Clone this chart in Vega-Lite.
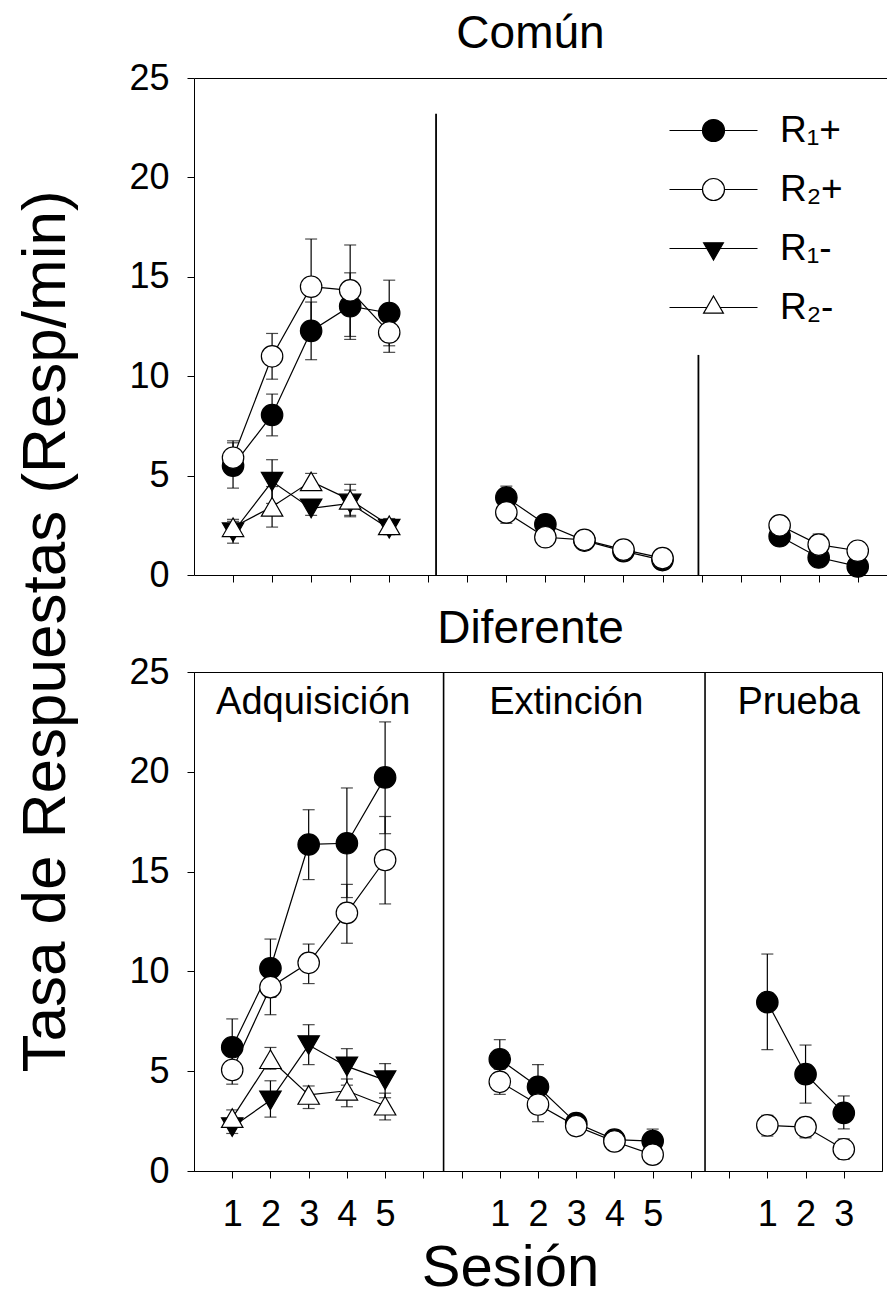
{
"$schema": "https://vega.github.io/schema/vega-lite/v6.json",
"background": "white",
"padding": {"left": 13, "top": 10, "right": 0, "bottom": 0},
"bounds": "flush",
"spacing": 97,
"config": {
  "font": "Liberation Sans",
  "view": {"stroke": null},
  "axis": {"grid": false, "domainColor": "black", "tickColor": "black", "labelColor": "black", "titleColor": "black", "labelFont": "Liberation Sans", "titleFont": "Liberation Sans", "labelFontSize": 36, "titleFontWeight": "normal", "tickSize": 7, "tickWidth": 1, "domainWidth": 1, "labelFlush": false, "labelOverlap": false},
  "legend": {"labelFont": "Liberation Sans", "labelColor": "black"}
},
"resolve": {"scale": {"fill": "independent", "shape": "independent"}, "legend": {"fill": "independent", "shape": "independent"}},
"datasets": {
  "series": [
    {"panel":"Común","serie":"R₁+","fase":"Adq","x":1,"m":5.5,"lo":4.37,"hi":6.65},
    {"panel":"Común","serie":"R₁+","fase":"Adq","x":2,"m":8.05,"lo":7.0,"hi":9.1},
    {"panel":"Común","serie":"R₁+","fase":"Adq","x":3,"m":12.28,"lo":10.83,"hi":13.73},
    {"panel":"Común","serie":"R₁+","fase":"Adq","x":4,"m":13.52,"lo":11.85,"hi":15.2},
    {"panel":"Común","serie":"R₁+","fase":"Adq","x":5,"m":13.18,"lo":11.53,"hi":14.83},
    {"panel":"Común","serie":"R₁+","fase":"Ext","x":8,"m":3.9,"lo":3.35,"hi":4.47},
    {"panel":"Común","serie":"R₁+","fase":"Ext","x":9,"m":2.55,"lo":2.25,"hi":2.85},
    {"panel":"Común","serie":"R₁+","fase":"Ext","x":10,"m":1.73,"lo":1.53,"hi":1.93},
    {"panel":"Común","serie":"R₁+","fase":"Ext","x":11,"m":1.2,"lo":1.05,"hi":1.35},
    {"panel":"Común","serie":"R₁+","fase":"Ext","x":12,"m":0.75,"lo":0.65,"hi":0.85},
    {"panel":"Común","serie":"R₁+","fase":"Pru","x":15,"m":1.95,"lo":1.65,"hi":2.25},
    {"panel":"Común","serie":"R₁+","fase":"Pru","x":16,"m":0.88,"lo":0.63,"hi":1.13},
    {"panel":"Común","serie":"R₁+","fase":"Pru","x":17,"m":0.43,"lo":0.23,"hi":0.63},
    {"panel":"Común","serie":"R₂+","fase":"Adq","x":1,"m":5.9,"lo":5.05,"hi":6.75},
    {"panel":"Común","serie":"R₂+","fase":"Adq","x":2,"m":11.0,"lo":9.85,"hi":12.15},
    {"panel":"Común","serie":"R₂+","fase":"Adq","x":3,"m":14.5,"lo":12.1,"hi":16.9},
    {"panel":"Común","serie":"R₂+","fase":"Adq","x":4,"m":14.32,"lo":12.0,"hi":16.6},
    {"panel":"Común","serie":"R₂+","fase":"Adq","x":5,"m":12.2,"lo":11.2,"hi":13.2},
    {"panel":"Común","serie":"R₂+","fase":"Ext","x":8,"m":3.15,"lo":2.6,"hi":3.7},
    {"panel":"Común","serie":"R₂+","fase":"Ext","x":9,"m":1.9,"lo":1.6,"hi":2.2},
    {"panel":"Común","serie":"R₂+","fase":"Ext","x":10,"m":1.77,"lo":1.57,"hi":1.97},
    {"panel":"Común","serie":"R₂+","fase":"Ext","x":11,"m":1.28,"lo":1.13,"hi":1.43},
    {"panel":"Común","serie":"R₂+","fase":"Ext","x":12,"m":0.85,"lo":0.75,"hi":0.95},
    {"panel":"Común","serie":"R₂+","fase":"Pru","x":15,"m":2.5,"lo":2.3,"hi":2.7},
    {"panel":"Común","serie":"R₂+","fase":"Pru","x":16,"m":1.53,"lo":1.0,"hi":2.06},
    {"panel":"Común","serie":"R₂+","fase":"Pru","x":17,"m":1.22,"lo":1.02,"hi":1.42},
    {"panel":"Común","serie":"R₁-","fase":"Adq","x":1,"m":2.15,"lo":1.6,"hi":2.7},
    {"panel":"Común","serie":"R₁-","fase":"Adq","x":2,"m":4.7,"lo":3.6,"hi":5.8},
    {"panel":"Común","serie":"R₁-","fase":"Adq","x":3,"m":3.35,"lo":3.0,"hi":3.7},
    {"panel":"Común","serie":"R₁-","fase":"Adq","x":4,"m":3.6,"lo":2.93,"hi":4.27},
    {"panel":"Común","serie":"R₁-","fase":"Adq","x":5,"m":2.33,"lo":2.03,"hi":2.63},
    {"panel":"Común","serie":"R₂-","fase":"Adq","x":1,"m":2.4,"lo":2.0,"hi":2.8},
    {"panel":"Común","serie":"R₂-","fase":"Adq","x":2,"m":3.43,"lo":2.41,"hi":4.45},
    {"panel":"Común","serie":"R₂-","fase":"Adq","x":3,"m":4.71,"lo":4.31,"hi":5.11},
    {"panel":"Común","serie":"R₂-","fase":"Adq","x":4,"m":3.78,"lo":3.0,"hi":4.56},
    {"panel":"Común","serie":"R₂-","fase":"Adq","x":5,"m":2.5,"lo":2.16,"hi":2.84},
    {"panel":"Diferente","serie":"R₁+","fase":"Adq","x":1,"m":6.2,"lo":4.8,"hi":7.62},
    {"panel":"Diferente","serie":"R₁+","fase":"Adq","x":2,"m":10.16,"lo":8.7,"hi":11.62},
    {"panel":"Diferente","serie":"R₁+","fase":"Adq","x":3,"m":16.36,"lo":14.6,"hi":18.1},
    {"panel":"Diferente","serie":"R₁+","fase":"Adq","x":4,"m":16.42,"lo":13.7,"hi":19.19},
    {"panel":"Diferente","serie":"R₁+","fase":"Adq","x":5,"m":19.72,"lo":16.9,"hi":22.5},
    {"panel":"Diferente","serie":"R₁+","fase":"Ext","x":8,"m":5.6,"lo":4.62,"hi":6.58},
    {"panel":"Diferente","serie":"R₁+","fase":"Ext","x":9,"m":4.22,"lo":3.1,"hi":5.33},
    {"panel":"Diferente","serie":"R₁+","fase":"Ext","x":10,"m":2.4,"lo":2.15,"hi":2.65},
    {"panel":"Diferente","serie":"R₁+","fase":"Ext","x":11,"m":1.57,"lo":1.37,"hi":1.77},
    {"panel":"Diferente","serie":"R₁+","fase":"Ext","x":12,"m":1.5,"lo":0.95,"hi":2.1},
    {"panel":"Diferente","serie":"R₁+","fase":"Pru","x":15,"m":8.46,"lo":6.08,"hi":10.87},
    {"panel":"Diferente","serie":"R₁+","fase":"Pru","x":16,"m":4.85,"lo":3.4,"hi":6.31},
    {"panel":"Diferente","serie":"R₁+","fase":"Pru","x":17,"m":2.91,"lo":2.11,"hi":3.76},
    {"panel":"Diferente","serie":"R₂+","fase":"Adq","x":1,"m":5.06,"lo":4.35,"hi":5.77},
    {"panel":"Diferente","serie":"R₂+","fase":"Adq","x":2,"m":9.21,"lo":7.83,"hi":10.6},
    {"panel":"Diferente","serie":"R₂+","fase":"Adq","x":3,"m":10.43,"lo":9.39,"hi":11.37},
    {"panel":"Diferente","serie":"R₂+","fase":"Adq","x":4,"m":12.93,"lo":11.41,"hi":14.36},
    {"panel":"Diferente","serie":"R₂+","fase":"Adq","x":5,"m":15.58,"lo":13.38,"hi":17.76},
    {"panel":"Diferente","serie":"R₂+","fase":"Ext","x":8,"m":4.47,"lo":3.84,"hi":5.1},
    {"panel":"Diferente","serie":"R₂+","fase":"Ext","x":9,"m":3.33,"lo":2.47,"hi":4.19},
    {"panel":"Diferente","serie":"R₂+","fase":"Ext","x":10,"m":2.25,"lo":2.0,"hi":2.5},
    {"panel":"Diferente","serie":"R₂+","fase":"Ext","x":11,"m":1.48,"lo":1.33,"hi":1.63},
    {"panel":"Diferente","serie":"R₂+","fase":"Ext","x":12,"m":0.82,"lo":0.72,"hi":0.92},
    {"panel":"Diferente","serie":"R₂+","fase":"Pru","x":15,"m":2.29,"lo":1.75,"hi":2.79},
    {"panel":"Diferente","serie":"R₂+","fase":"Pru","x":16,"m":2.2,"lo":1.66,"hi":2.68},
    {"panel":"Diferente","serie":"R₂+","fase":"Pru","x":17,"m":1.09,"lo":0.59,"hi":1.61},
    {"panel":"Diferente","serie":"R₁-","fase":"Adq","x":1,"m":2.2,"lo":1.88,"hi":2.52},
    {"panel":"Diferente","serie":"R₁-","fase":"Adq","x":2,"m":3.54,"lo":2.7,"hi":4.52},
    {"panel":"Diferente","serie":"R₁-","fase":"Adq","x":3,"m":6.31,"lo":5.33,"hi":7.33},
    {"panel":"Diferente","serie":"R₁-","fase":"Adq","x":4,"m":5.24,"lo":4.3,"hi":6.13},
    {"panel":"Diferente","serie":"R₁-","fase":"Adq","x":5,"m":4.55,"lo":3.67,"hi":5.38},
    {"panel":"Diferente","serie":"R₂-","fase":"Adq","x":1,"m":2.65,"lo":2.24,"hi":3.06},
    {"panel":"Diferente","serie":"R₂-","fase":"Adq","x":2,"m":5.6,"lo":5.1,"hi":6.19},
    {"panel":"Diferente","serie":"R₂-","fase":"Adq","x":3,"m":3.81,"lo":3.13,"hi":4.26},
    {"panel":"Diferente","serie":"R₂-","fase":"Adq","x":4,"m":4.02,"lo":3.22,"hi":4.61},
    {"panel":"Diferente","serie":"R₂-","fase":"Adq","x":5,"m":3.27,"lo":2.56,"hi":3.9}
  ],
  "divisores": [
    {"panel":"Común","x":6.2,"y0":0,"y1":23.2},
    {"panel":"Común","x":12.92,"y0":0,"y1":11.07},
    {"panel":"Diferente","x":6.53,"y0":0,"y1":25},
    {"panel":"Diferente","x":13.37,"y0":0,"y1":25}
  ],
  "fases": [
    {"label":"Adquisición","x":3.12,"y":22.9},
    {"label":"Extinción","x":9.74,"y":22.9},
    {"label":"Prueba","x":15.82,"y":22.9}
  ]
},
"vconcat": [
  {
    "width": 693,
    "height": 497,
    "resolve": {"axis": {"x": "independent", "y": "independent"}, "scale": {"fill": "independent", "shape": "independent"}, "legend": {"fill": "independent", "shape": "independent"}},
    "layer": [
      {
        "data": {"name": "divisores"},
        "transform": [{"filter": "datum.panel === 'Común'"}],
        "mark": {"type": "rule", "color": "black", "strokeWidth": 1.8},
        "encoding": {
          "x": {"field": "x", "type": "quantitative", "scale": {"domain": [0, 17.75], "nice": false, "zero": false}, "axis": null},
          "y": {"field": "y0", "type": "quantitative", "scale": {"domain": [0, 25], "nice": false}, "axis": null},
          "y2": {"field": "y1"}
        }
      },
      {
        "data": {"name": "series"},
        "transform": [{"filter": "datum.panel === 'Común'"}],
        "mark": {"type": "point", "size": 0, "opacity": 0},
        "encoding": {
          "x": {"field": "x", "type": "quantitative", "scale": {"domain": [0, 17.75], "nice": false, "zero": false},
                "axis": {"orient": "top", "values": [0], "ticks": false, "labels": false, "domain": true, "title": "Común", "titleFontSize": 46, "titleX": 336, "titleY": -31, "titleAlign": "center", "titleBaseline": "alphabetic", "titleAngle": 0}},
          "y": {"field": "m", "type": "quantitative", "scale": {"domain": [0, 25], "nice": false}, "axis": null}
        }
      },
      {
        "data": {"name": "series"},
        "transform": [{"filter": "datum.panel === 'Común'"}],
        "mark": {"type": "rule", "color": "black", "strokeWidth": 1.2},
        "encoding": {
          "x": {"field": "x", "type": "quantitative", "scale": {"domain": [0, 17.75], "nice": false, "zero": false}, "axis": null},
          "y": {"field": "lo", "type": "quantitative", "scale": {"domain": [0, 25], "nice": false}, "axis": null},
          "y2": {"field": "hi"}
        }
      },
      {
        "data": {"name": "series"},
        "transform": [{"filter": "datum.panel === 'Común'"}],
        "mark": {"type": "tick", "color": "black", "orient": "horizontal", "size": 12, "thickness": 1.2},
        "encoding": {
          "x": {"field": "x", "type": "quantitative", "scale": {"domain": [0, 17.75], "nice": false, "zero": false}, "axis": null},
          "y": {"field": "lo", "type": "quantitative", "scale": {"domain": [0, 25], "nice": false}, "axis": null}
        }
      },
      {
        "data": {"name": "series"},
        "transform": [{"filter": "datum.panel === 'Común'"}],
        "mark": {"type": "tick", "color": "black", "orient": "horizontal", "size": 12, "thickness": 1.2},
        "encoding": {
          "x": {"field": "x", "type": "quantitative", "scale": {"domain": [0, 17.75], "nice": false, "zero": false}, "axis": null},
          "y": {"field": "hi", "type": "quantitative", "scale": {"domain": [0, 25], "nice": false}, "axis": null}
        }
      },
      {
        "data": {"name": "series"},
        "transform": [{"filter": "datum.panel === 'Común'"}],
        "mark": {"type": "line", "color": "black", "strokeWidth": 1.2},
        "encoding": {
          "x": {"field": "x", "type": "quantitative", "scale": {"domain": [0, 17.75], "nice": false, "zero": false},
                "axis": {"values": [1,2,3,4,5,6,7,8,9,10,11,12,13,14,15,16,17], "labels": false, "title": null}},
          "y": {"field": "m", "type": "quantitative", "scale": {"domain": [0, 25], "nice": false},
                "axis": {"values": [0,5,10,15,20,25], "labelPadding": 18, "title": "Tasa de Respuestas (Resp/min)", "titleFontSize": 62, "titleAngle": 270, "titleX": -130, "titleY": 553, "titleAlign": "center", "titleBaseline": "alphabetic"}},
          "detail": [{"field": "serie"}, {"field": "fase"}]
        }
      },
      {
        "data": {"name": "series"},
        "transform": [{"filter": "datum.panel === 'Común'"}],
        "mark": {"type": "point", "stroke": "black", "strokeWidth": 1.2, "opacity": 1, "fillOpacity": 1, "size": 460},
        "encoding": {
          "x": {"field": "x", "type": "quantitative", "scale": {"domain": [0, 17.75], "nice": false, "zero": false}, "axis": null},
          "y": {"field": "m", "type": "quantitative", "scale": {"domain": [0, 25], "nice": false}, "axis": null},
          "fill": {"field": "serie", "type": "nominal", "scale": {"domain": ["R₁+", "R₂+", "R₁-", "R₂-"], "range": ["black", "white", "black", "white"]}, "legend": null},
          "shape": {"field": "serie", "type": "nominal", "scale": {"domain": ["R₁+", "R₂+", "R₁-", "R₂-"], "range": ["circle", "circle", "triangle-down", "triangle-up"]}, "legend": null}
        }
      },
      {
        "data": {"name": "series"},
        "transform": [{"filter": "datum.panel === 'ninguno'"}],
        "mark": {"type": "point", "stroke": "black", "strokeWidth": 1.2, "opacity": 1, "fillOpacity": 1, "size": 484},
        "encoding": {
          "x": {"field": "x", "type": "quantitative", "scale": {"domain": [0, 17.75], "nice": false, "zero": false}, "axis": null},
          "y": {"field": "m", "type": "quantitative", "scale": {"domain": [0, 25], "nice": false}, "axis": null},
          "fill": {"field": "serie", "type": "nominal", "scale": {"domain": ["R₁+", "R₂+", "R₁-", "R₂-"], "range": ["black", "white", "black", "white"]},
                   "legend": {"orient": "none", "legendX": 501, "legendY": 34, "title": null, "padding": 0, "symbolSize": 484, "symbolStrokeWidth": 1.2, "labelFontSize": 37, "labelOffset": 48, "rowPadding": 21, "labelLimit": 0}},
          "shape": {"field": "serie", "type": "nominal", "scale": {"domain": ["R₁+", "R₂+", "R₁-", "R₂-"], "range": ["M-4,0L-1,0M1,0L4,0M1,0C1,0.552,0.552,1,0,1C-0.552,1,-1,0.552,-1,0C-1,-0.552,-0.552,-1,0,-1C0.552,-1,1,-0.552,1,0Z", "M-4,0L-1,0M1,0L4,0M1,0C1,0.552,0.552,1,0,1C-0.552,1,-1,0.552,-1,0C-1,-0.552,-0.552,-1,0,-1C0.552,-1,1,-0.552,1,0Z", "M-4,0L4,0M-0.9,-0.52L0.9,-0.52L0,1.04Z", "M-4,0L-0.6,0M0.6,0L4,0M0,-1.04L0.9,0.52L-0.9,0.52Z"]},
                   "legend": {"orient": "none", "legendX": 501, "legendY": 34, "title": null, "padding": 0, "symbolSize": 484, "symbolStrokeWidth": 1.2, "labelFontSize": 37, "labelOffset": 48, "rowPadding": 21, "labelLimit": 0}}
        }
      }
    ]
  },
  {
    "width": 688,
    "height": 499,
    "view": {"stroke": "black", "strokeWidth": 1},
    "resolve": {"axis": {"x": "independent", "y": "independent"}},
    "layer": [
      {
        "data": {"name": "divisores"},
        "transform": [{"filter": "datum.panel === 'Diferente'"}],
        "mark": {"type": "rule", "color": "black", "strokeWidth": 1.6},
        "encoding": {
          "x": {"field": "x", "type": "quantitative", "scale": {"domain": [0, 18], "nice": false, "zero": false}, "axis": null},
          "y": {"field": "y0", "type": "quantitative", "scale": {"domain": [0, 25], "nice": false}, "axis": null},
          "y2": {"field": "y1"}
        }
      },
      {
        "data": {"name": "fases"},
        "mark": {"type": "text", "color": "black", "font": "Liberation Sans", "fontSize": 38, "align": "center", "baseline": "alphabetic"},
        "encoding": {
          "x": {"field": "x", "type": "quantitative", "scale": {"domain": [0, 18], "nice": false, "zero": false},
                "axis": {"orient": "top", "values": [0], "ticks": false, "labels": false, "domain": true, "title": "Diferente", "titleFontSize": 46, "titleX": 336, "titleY": -30, "titleAlign": "center", "titleBaseline": "alphabetic", "titleAngle": 0}},
          "y": {"field": "y", "type": "quantitative", "scale": {"domain": [0, 25], "nice": false}, "axis": null},
          "text": {"field": "label"}
        }
      },
      {
        "data": {"name": "series"},
        "transform": [{"filter": "datum.panel === 'Diferente'"}],
        "mark": {"type": "rule", "color": "black", "strokeWidth": 1.2},
        "encoding": {
          "x": {"field": "x", "type": "quantitative", "scale": {"domain": [0, 18], "nice": false, "zero": false}, "axis": null},
          "y": {"field": "lo", "type": "quantitative", "scale": {"domain": [0, 25], "nice": false}, "axis": null},
          "y2": {"field": "hi"}
        }
      },
      {
        "data": {"name": "series"},
        "transform": [{"filter": "datum.panel === 'Diferente'"}],
        "mark": {"type": "tick", "color": "black", "orient": "horizontal", "size": 12, "thickness": 1.2},
        "encoding": {
          "x": {"field": "x", "type": "quantitative", "scale": {"domain": [0, 18], "nice": false, "zero": false}, "axis": null},
          "y": {"field": "lo", "type": "quantitative", "scale": {"domain": [0, 25], "nice": false}, "axis": null}
        }
      },
      {
        "data": {"name": "series"},
        "transform": [{"filter": "datum.panel === 'Diferente'"}],
        "mark": {"type": "tick", "color": "black", "orient": "horizontal", "size": 12, "thickness": 1.2},
        "encoding": {
          "x": {"field": "x", "type": "quantitative", "scale": {"domain": [0, 18], "nice": false, "zero": false}, "axis": null},
          "y": {"field": "hi", "type": "quantitative", "scale": {"domain": [0, 25], "nice": false}, "axis": null}
        }
      },
      {
        "data": {"name": "series"},
        "transform": [{"filter": "datum.panel === 'Diferente'"}],
        "mark": {"type": "line", "color": "black", "strokeWidth": 1.2},
        "encoding": {
          "x": {"field": "x", "type": "quantitative", "scale": {"domain": [0, 18], "nice": false, "zero": false},
                "axis": {"values": [1,2,3,4,5,6,7,8,9,10,11,12,13,14,15,16,17], "labelPadding": 19, "labelExpr": "datum.value <= 5 ? datum.value : (datum.value >= 8 && datum.value <= 12) ? datum.value - 7 : datum.value >= 15 ? datum.value - 14 : ''", "title": "Sesión", "titleFontSize": 58, "titleX": 316, "titleY": 114, "titleAlign": "center", "titleBaseline": "alphabetic", "titleAngle": 0}},
          "y": {"field": "m", "type": "quantitative", "scale": {"domain": [0, 25], "nice": false},
                "axis": {"values": [0,5,10,15,20,25], "labelPadding": 18, "title": null}},
          "detail": [{"field": "serie"}, {"field": "fase"}]
        }
      },
      {
        "data": {"name": "series"},
        "transform": [{"filter": "datum.panel === 'Diferente'"}],
        "mark": {"type": "point", "stroke": "black", "strokeWidth": 1.2, "opacity": 1, "fillOpacity": 1, "size": 460},
        "encoding": {
          "x": {"field": "x", "type": "quantitative", "scale": {"domain": [0, 18], "nice": false, "zero": false}, "axis": null},
          "y": {"field": "m", "type": "quantitative", "scale": {"domain": [0, 25], "nice": false}, "axis": null},
          "fill": {"field": "serie", "type": "nominal", "scale": {"domain": ["R₁+", "R₂+", "R₁-", "R₂-"], "range": ["black", "white", "black", "white"]}, "legend": null},
          "shape": {"field": "serie", "type": "nominal", "scale": {"domain": ["R₁+", "R₂+", "R₁-", "R₂-"], "range": ["circle", "circle", "triangle-down", "triangle-up"]}, "legend": null}
        }
      }
    ]
  }
]
}
